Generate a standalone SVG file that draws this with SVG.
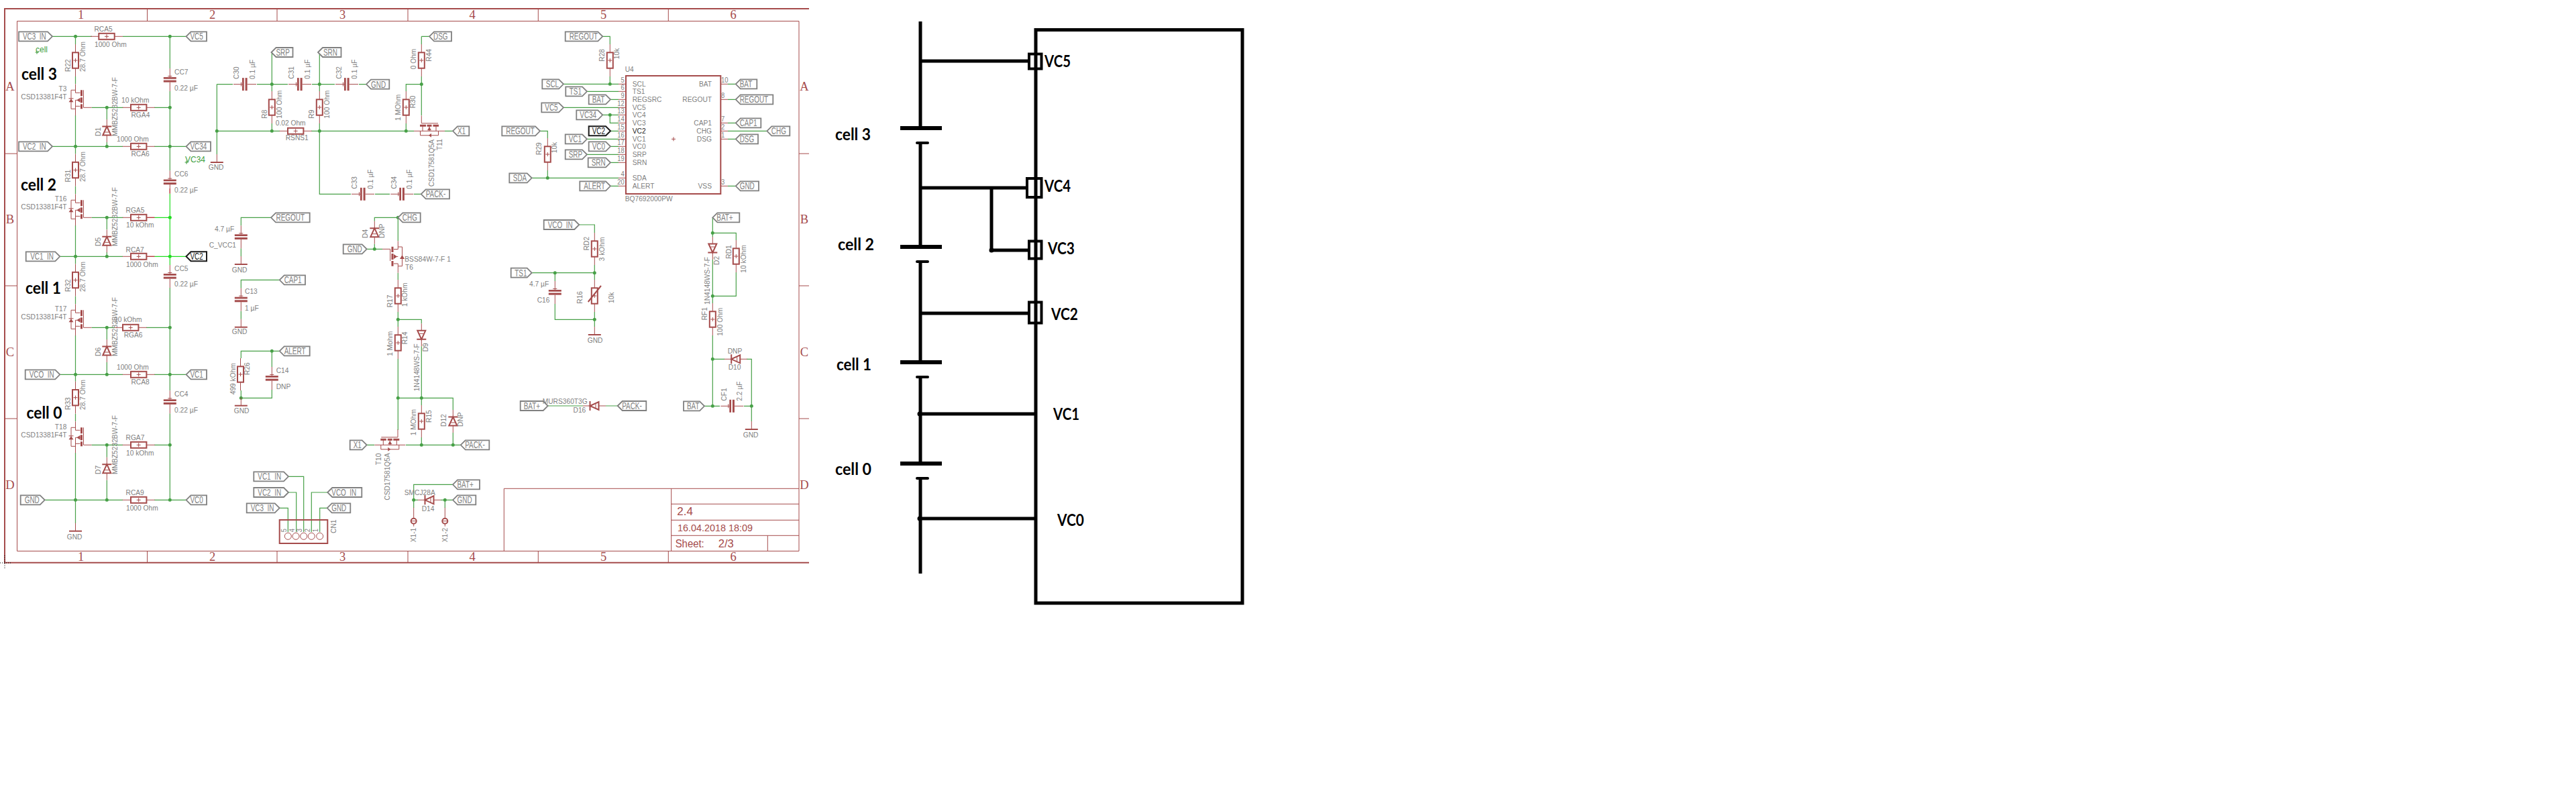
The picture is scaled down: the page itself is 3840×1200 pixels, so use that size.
<svg xmlns="http://www.w3.org/2000/svg" width="3840" height="1200" viewBox="0 0 3840 1200">
<style>
text{font-family:"Liberation Sans",Arial,sans-serif;fill:#7f7f7f}
.t,.l,.pn{transform-box:fill-box;transform-origin:0 50%}
.t{font-size:11.5px;transform:scaleX(.89)}
.l{font-size:14px;transform:scaleX(.71)}
.pn{font-size:10.5px;transform:scaleX(.9)}
.e{transform-origin:100% 50%}
.g{fill:#3d9e3d;font-size:12px}
.m{font-family:"Liberation Serif",serif;fill:#a54b4b;font-size:18.5px;text-anchor:middle}
.tb{fill:#a54b4b}
.b,.r{font-family:Lato,"Liberation Sans",sans-serif;font-weight:700;fill:#000;font-size:24px}
.w{fill:none;stroke:#47a047;stroke-width:1.2}
.wb{fill:none;stroke:#22dd22;stroke-width:1.2}
.red{fill:none;stroke:#e01515;stroke-width:1.2}
.d{fill:#47a047}
.db{fill:#22dd22}
.p{fill:none;stroke:#a54b4b;stroke-width:1}
.f{fill:#fff;stroke:#a54b4b;stroke-width:2}
.n{fill:none;stroke:#a54b4b;stroke-width:2}
.k{fill:none;stroke:#a54b4b;stroke-width:3}
.s{fill:#a54b4b}
.lb{fill:#fff;stroke:#808080;stroke-width:1.8}
.lk{fill:#fff;stroke:#1a1a1a;stroke-width:2}
.x{fill:none;stroke:#000;stroke-width:5}
.y{fill:none;stroke:#000;stroke-width:4}
</style>
<defs>
<g id="res"><path class="p" d="M0-24V-12M0 12V24"/><rect class="f" x="-4.5" y="-11.7" width="9" height="23.4"/><path class="p" d="M-3 0H3M0-3V3"/></g>
<g id="cap"><path class="p" d="M0-17V-4M0 3.6V17M-3-5.5H3"/><rect class="s" x="-9.5" y="-4" width="19" height="2.7"/><rect class="s" x="-9.5" y="0.6" width="19" height="3"/></g>
<g id="dio"><path class="p" d="M0-17V-6.5M0 6.5V17"/><path class="n" d="M-7-6.5H7M-6 6.5H6L0-6.5Z"/><path class="p" d="M-3 2H3"/></g>
<g id="gnd"><path class="p" d="M0-12V0"/><path class="n" d="M-9.5 0H9.5"/></g>
<g id="pad"><path class="p" d="M0-20V-4M0 4V8M-4 0H4"/><circle class="n" r="4"/></g>
<g id="nfet"><path class="p" d="M0-35V-22H7M0-11H7M0-11V12M0-2H7M12-26V0H24M0-26H-6.5V2H0"/><path class="k" d="M9-26V-17M9-15V-7M9-5V2"/><path class="s" d="M7-14.5V-7.5L2-11Z"/><path class="s" d="M-10-8H-3L-6.5-13Z"/><path class="p" d="M-10-13.5H-3"/></g>
<g id="hfet"><path class="p" d="M-11.7-23V-11.5H13M-10-8V0M10-8V0M0-8V0M-23 0H23M-13.5 0V6.5H13.5V0"/><path class="k" d="M-14-8H-5M-3.5-8H3.5M5.5-8H14"/><path class="s" d="M-3-1H3L0-6Z"/><path class="s" d="M-1 6.5L3 3.5V9.5Z"/></g>
</defs>
<g id="frame">
<path class="n" d="M1206 13H7V838.7H1206"/>
<path class="p" d="M25.5 31.5H1191V821.5H25.5ZM219.5 13V31.5M413 13V31.5M608 13V31.5M802.3 13V31.5M996.3 13V31.5M219.5 821.5V838.7M413 821.5V838.7M608 821.5V838.7M802.3 821.5V838.7M996.3 821.5V838.7M7 229H25.5M7 426H25.5M7 624H25.5M1191 229H1206M1191 426H1206M1191 624H1206"/>
<path fill="none" stroke="#000" stroke-width="1" stroke-dasharray="1 2" d="M7 828V848M0 839H17"/>
<text class="m" x="120.700" y="28">1</text><text class="m" x="316.700" y="28">2</text><text class="m" x="510.500" y="28">3</text><text class="m" x="704" y="28">4</text><text class="m" x="899.500" y="28">5</text><text class="m" x="1093" y="28">6</text>
<text class="m" x="120.700" y="836">1</text><text class="m" x="316.700" y="836">2</text><text class="m" x="510.500" y="836">3</text><text class="m" x="704" y="836">4</text><text class="m" x="899.500" y="836">5</text><text class="m" x="1093" y="836">6</text>
<text class="m" x="15" y="135">A</text><text class="m" x="15" y="333">B</text><text class="m" x="15" y="531">C</text><text class="m" x="15" y="729">D</text>
<text class="m" x="1199" y="135">A</text><text class="m" x="1199" y="333">B</text><text class="m" x="1199" y="531">C</text><text class="m" x="1199" y="729">D</text>
<path class="p" d="M751.300 821.5V728.300H1191M1000.700 728.300V821.500M1000.700 751.300H1191M1000.700 775.300H1191M1000.700 798.300H1191M1144.300 798.300V821.500"/>
<text class="tb" font-size="17" x="1009.300" y="768.300">2.4</text>
<text class="tb" font-size="15" x="1010" y="792.300" textLength="112" lengthAdjust="spacingAndGlyphs">16.04.2018 18:09</text>
<text class="tb" font-size="17" x="1006.700" y="815.700" textLength="43" lengthAdjust="spacingAndGlyphs">Sheet:</text>
<text class="tb" font-size="17" x="1070.700" y="815.700" textLength="23" lengthAdjust="spacingAndGlyphs">2/3</text>
</g>
<g id="connectors">
<path class="w" d="M78 54.3H137M183 54.3H277.5M112.5 54.3V66M112.5 114V125M112.5 172V229.5M112.5 277.5V289.3M112.5 336V393.5M112.5 441.5V453.3M112.5 500V568.7M112.5 616.7V628.3M112.5 675V780M253.3 54.3V102M253.3 136V254.5M253.3 429V582.3M253.3 616.3V745.3M136.5 160.3H183.5M230 160.3H253.3M136.5 324.3H183.5M136.5 488.3H171M218 488.3H253.3M136.5 663.3H183M230 663.3H253.3M78 218.3H183M230 218.3H277.5M89.3 382.3H183M89.3 558.3H183M230 558.3H277.5M66.7 745.3H183M230 745.3H277.5M159.3 160.3V178M159.3 212V218.3M159.3 324.3V342M159.3 376V382.3M159.3 488.3V506M159.3 540V558.3M159.3 663.3V681.7M159.3 715.7V745.3"/>
<path class="w" d="M323.3 125.6H347M323.3 125.6V230M383 125.6H429M465 125.6H499M535 125.6H546M405.3 78V136M405.3 184V195.3M476.3 78V136M476.3 184V289.3H523M559 289.3H581M617 289.3H627.7M323.3 195.3H417M464 195.3H617M605.3 195.3V184M605.3 136V125.6H628.3M628.3 54.3H640M628.3 54.3V66M628.3 114V172M663 195.3H675"/>
<path class="w" d="M404 324.3H359.3V336.3M359.3 370.3V382M416.7 417.3H359.3V429.7M359.3 463.7V475.7M416.7 523.3H359.3V534M405.3 523.3V547M405.3 581V593.3H359.3M359.3 582V592.7"/>
<path class="w" d="M593.3 324.3H558.3V329.7M558.3 363.7V371.3M546.7 371.3H570M593.3 324.3V359.3M593.3 406.7V417M593.3 465V487M593.3 476.3H628.3V482.3M628.3 516.3V604M593.3 535V641M593.3 593.3H675.3V611M675.3 645V663.3M628.3 652V663.3M605 663.3H686.7M546.7 663.3H558"/>
<path class="w" d="M616.7 745.3V722.3H675M616.7 745.3H623M657 745.3H675M616.7 745.3V757M663.3 745.3V757M430 710.3H452.7V793M430 734H441.7V793M416.7 757.3H429.3V793M488.3 734H464.3V793M487.7 757.3H476.7V793"/>
<path class="w" d="M840 125.3H922M875 136.3H922M910 148.3H922M840 160.3H922M898.3 171.3H922M909.3 171.3V183.3H922M910 195.3H922M875 207.3H922M910 218.3H922M875 230.3H922M910 242.3H922M805 195.3H816.3V206M816.3 254V265.3M792.7 265.3H922M910 277.3H922M898.3 54.3H909.3V66M909.3 114V125.3M1085 125.3H1096.7M1085 148.3H1096.7M1085 183.3H1096.7M1085 195.3H1143.3M1085 207.3H1096.7M1085 277.3H1096.7"/>
<path class="w" d="M863.3 335H886.3V347M886.3 395V417M792.7 406.7H886.3M827.3 406.7V419M827.3 453V476.3H886.3M886.3 465V487M1062.3 324.3V353M1062.3 347.3H1097.3V358M1097.3 406V441.3H1062.3M1062.3 387V452M1062.3 500V605.3H1050M1062.3 605.3H1073M1062.3 535.3H1080M1113 535.3H1120.3V628M1109 605.3H1120.3M816.7 605H869M903 605H920.7"/>
<path class="wb" d="M253.3 288.5V395M230 324.3H253.3M230 382.3H277.5"/>
<path class="red" d="M219 324.3H230M219 382.3H230M253.3 281V288.5"/>
<g class="d"><circle cx="112.500" cy="54.300" r="2.500"/><circle cx="253.300" cy="54.300" r="2.500"/><circle cx="159.300" cy="160.300" r="2.500"/><circle cx="253.300" cy="160.300" r="2.500"/><circle cx="112.500" cy="218.300" r="2.500"/><circle cx="159.300" cy="218.300" r="2.500"/><circle cx="253.300" cy="218.300" r="2.500"/><circle cx="159.300" cy="324.300" r="2.500"/><circle cx="112.500" cy="382.300" r="2.500"/><circle cx="159.300" cy="382.300" r="2.500"/><circle cx="159.300" cy="488.300" r="2.500"/><circle cx="253.300" cy="488.300" r="2.500"/><circle cx="112.500" cy="558.300" r="2.500"/><circle cx="159.300" cy="558.300" r="2.500"/><circle cx="253.300" cy="558.300" r="2.500"/><circle cx="159.300" cy="663.300" r="2.500"/><circle cx="253.300" cy="663.300" r="2.500"/><circle cx="112.500" cy="745.300" r="2.500"/><circle cx="159.300" cy="745.300" r="2.500"/><circle cx="253.300" cy="745.300" r="2.500"/><circle cx="405.300" cy="125.600" r="2.500"/><circle cx="405.300" cy="195.300" r="2.500"/><circle cx="323.300" cy="195.300" r="2.500"/><circle cx="476.300" cy="125.600" r="2.500"/><circle cx="476.300" cy="195.300" r="2.500"/><circle cx="605.300" cy="195.300" r="2.500"/><circle cx="628.300" cy="125.600" r="2.500"/><circle cx="405.300" cy="523.300" r="2.500"/><circle cx="359.300" cy="593.300" r="2.500"/><circle cx="593.300" cy="324.300" r="2.500"/><circle cx="558.300" cy="371.300" r="2.500"/><circle cx="593.300" cy="476.300" r="2.500"/><circle cx="593.300" cy="593.300" r="2.500"/><circle cx="628.300" cy="593.300" r="2.500"/><circle cx="628.300" cy="663.300" r="2.500"/><circle cx="675.300" cy="663.300" r="2.500"/><circle cx="616.700" cy="745.300" r="2.500"/><circle cx="663.300" cy="745.300" r="2.500"/><circle cx="909.300" cy="125.300" r="2.500"/><circle cx="909.300" cy="171.300" r="2.500"/><circle cx="816.300" cy="265.300" r="2.500"/><circle cx="827.300" cy="406.700" r="2.500"/><circle cx="886.300" cy="406.700" r="2.500"/><circle cx="886.300" cy="476.300" r="2.500"/><circle cx="1062.300" cy="347.300" r="2.500"/><circle cx="1062.300" cy="441.300" r="2.500"/><circle cx="1062.300" cy="535.300" r="2.500"/><circle cx="1062.300" cy="605.300" r="2.500"/><circle cx="1120.300" cy="605.300" r="2.500"/></g>
<g class="db"><circle cx="253.300" cy="324.300" r="2.500"/><circle cx="253.300" cy="382.300" r="2.500"/></g>
<path class="x" d="M1372 32V190M1372 213V368M1372 390V540M1372 562V691M1372 713V855M1372 91H1535M1372 280H1532M1478 280V373H1535M1372 467H1535M1372 617H1544M1372 773H1544"/>
<circle cx="1478" cy="373" r="3.500"/><circle cx="1371" cy="617" r="3.500"/><circle cx="1371" cy="773" r="3.500"/>
</g>
<g id="nets">
<text class="g" x="53" y="78">cell</text><path class="w" d="M52.500 78H57.500M55 75.500V80.500"/>
<text class="g" x="276" y="242">VC34</text><path class="w" d="M275.500 242H280.500M278 239.500V244.500"/>
</g>
<g id="hv-labels">
<g id="lb1" transform="translate(28 54.3)"><path class="lb" d="M0-7H43L50 0 43 7H0Z"/><text class="l" x="6" y="5">VC3_IN</text></g>
<g id="lb2" transform="translate(28 218.3)"><path class="lb" d="M0-7H43L50 0 43 7H0Z"/><text class="l" x="6" y="5">VC2_IN</text></g>
<g id="lb3" transform="translate(38.7 382.3)"><path class="lb" d="M0-7H43.600L50.600 0 43.600 7H0Z"/><text class="l" x="6.500" y="5">VC1_IN</text></g>
<g id="lb4" transform="translate(37.7 558.3)"><path class="lb" d="M0-7H44.600L51.600 0 44.600 7H0Z"/><text class="l" x="6" y="5">VCO_IN</text></g>
<g id="lb5" transform="translate(30.7 745.3)"><path class="lb" d="M0-7H29L36 0 29 7H0Z"/><text class="l" x="6" y="5">GND</text></g>
<g id="lb6" transform="translate(378.3 710.3)"><path class="lb" d="M0-7H44.700L51.700 0 44.700 7H0Z"/><text class="l" x="6" y="5">VC1_IN</text></g>
<g id="lb7" transform="translate(378.3 734)"><path class="lb" d="M0-7H44.700L51.700 0 44.700 7H0Z"/><text class="l" x="6" y="5">VC2_IN</text></g>
<g id="lb8" transform="translate(367.7 757.3)"><path class="lb" d="M0-7H42L49 0 42 7H0Z"/><text class="l" x="6" y="5">VC3_IN</text></g>
<g id="lb9" transform="translate(511.7 371.3)"><path class="lb" d="M0-7H28L35 0 28 7H0Z"/><text class="l" x="6" y="5">GND</text></g>
<g id="lb10" transform="translate(521.7 663.3)"><path class="lb" d="M0-7H18L25 0 18 7H0Z"/><text class="l" x="5" y="5">X1</text></g>
<g id="lb11" transform="translate(748.3 195.3)"><path class="lb" d="M0-7H49.700L56.700 0 49.700 7H0Z"/><text class="l" x="6" y="5">REGOUT</text></g>
<g id="lb12" transform="translate(759.3 265.3)"><path class="lb" d="M0-7H26.400L33.400 0 26.400 7H0Z"/><text class="l" x="5.500" y="5">SDA</text></g>
<g id="lb13" transform="translate(761.7 406.7)"><path class="lb" d="M0-7H24L31 0 24 7H0Z"/><text class="l" x="5.500" y="5">TS1</text></g>
<g id="lb14" transform="translate(775.7 605)"><path class="lb" d="M0-7H34L41 0 34 7H0Z"/><text class="l" x="5" y="5">BAT+</text></g>
<g id="lb15" transform="translate(1019 605.3)"><path class="lb" d="M0-7H24L31 0 24 7H0Z"/><text class="l" x="5" y="5">BAT</text></g>
<g id="lb16" transform="translate(842.7 54.3)"><path class="lb" d="M0-7H48.600L55.600 0 48.600 7H0Z"/><text class="l" x="6" y="5">REGOUT</text></g>
<g id="lb17" transform="translate(808.3 125.3)"><path class="lb" d="M0-7H24.700L31.700 0 24.700 7H0Z"/><text class="l" x="5.500" y="5">SCL</text></g>
<g id="lb18" transform="translate(843.3 136.3)"><path class="lb" d="M0-7H24.700L31.700 0 24.700 7H0Z"/><text class="l" x="5.500" y="5">TS1</text></g>
<g id="lb19" transform="translate(877.7 148.3)"><path class="lb" d="M0-7H25.300L32.300 0 25.300 7H0Z"/><text class="l" x="5" y="5">BAT</text></g>
<g id="lb20" transform="translate(807.3 160.3)"><path class="lb" d="M0-7H25.700L32.700 0 25.700 7H0Z"/><text class="l" x="5" y="5">VC5</text></g>
<g id="lb21" transform="translate(859.3 171.3)"><path class="lb" d="M0-7H32L39 0 32 7H0Z"/><text class="l" x="5" y="5">VC34</text></g>
<g id="lb22" transform="translate(877.7 195.3)"><path class="lk" d="M0-7H25.300L32.300 0 25.300 7H0Z"/><text class="l" style="fill:#1a1a1a" x="5" y="5">VC2</text></g>
<g id="lb23" transform="translate(842.7 207.3)"><path class="lb" d="M0-7H25.300L32.300 0 25.300 7H0Z"/><text class="l" x="5" y="5">VC1</text></g>
<g id="lb24" transform="translate(877.7 218.3)"><path class="lb" d="M0-7H25.300L32.300 0 25.300 7H0Z"/><text class="l" x="5" y="5">VC0</text></g>
<g id="lb25" transform="translate(842.7 230.3)"><path class="lb" d="M0-7H25.300L32.300 0 25.300 7H0Z"/><text class="l" x="5" y="5">SRP</text></g>
<g id="lb26" transform="translate(876.7 242.3)"><path class="lb" d="M0-7H26.300L33.300 0 26.300 7H0Z"/><text class="l" x="5" y="5">SRN</text></g>
<g id="lb27" transform="translate(864.3 277.3)"><path class="lb" d="M0-7H38.700L45.700 0 38.700 7H0Z"/><text class="l" x="6" y="5">ALERT</text></g>
<g id="lb28" transform="translate(810.7 335)"><path class="lb" d="M0-7H45.600L52.600 0 45.600 7H0Z"/><text class="l" x="6" y="5">VCO_IN</text></g>
<g id="ll1" transform="translate(277.5 54.3)"><path class="lb" d="M0 0L7-7H30.500V7H7Z"/><text class="l" x="6" y="5">VC5</text></g>
<g id="ll2" transform="translate(277.5 218.3)"><path class="lb" d="M0 0L7-7H36.500V7H7Z"/><text class="l" x="6" y="5">VC34</text></g>
<g id="ll3" transform="translate(277.5 382.3)"><path class="lk" d="M0 0L7-7H30.500V7H7Z"/><text class="l" style="fill:#1a1a1a" x="6" y="5">VC2</text></g>
<g id="ll4" transform="translate(277.5 558.3)"><path class="lb" d="M0 0L7-7H30.500V7H7Z"/><text class="l" x="6" y="5">VC1</text></g>
<g id="ll5" transform="translate(277.5 745.3)"><path class="lb" d="M0 0L7-7H30.500V7H7Z"/><text class="l" x="6" y="5">VC0</text></g>
<g id="ll6" transform="translate(404.5 78)"><path class="lb" d="M0 0L7-7H32V7H7Z"/><text class="l" x="7" y="5">SRP</text></g>
<g id="ll7" transform="translate(474 78)"><path class="lb" d="M0 0L7-7H34.500V7H7Z"/><text class="l" x="8" y="5">SRN</text></g>
<g id="ll8" transform="translate(546 125.6)"><path class="lb" d="M0 0L7-7H34.300V7H7Z"/><text class="l" x="7" y="5">GND</text></g>
<g id="ll9" transform="translate(640 54.3)"><path class="lb" d="M0 0L7-7H33V7H7Z"/><text class="l" x="6" y="5">DSG</text></g>
<g id="ll10" transform="translate(675 195.3)"><path class="lb" d="M0 0L7-7H24.300V7H7Z"/><text class="l" x="7" y="5">X1</text></g>
<g id="ll11" transform="translate(627.7 289.3)"><path class="lb" d="M0 0L7-7H42.300V7H7Z"/><text class="l" x="7" y="5">PACK-</text></g>
<g id="ll12" transform="translate(404 324.3)"><path class="lb" d="M0 0L7-7H57.700V7H7Z"/><text class="l" x="7.500" y="5">REGOUT</text></g>
<g id="ll13" transform="translate(593.3 324.3)"><path class="lb" d="M0 0L7-7H33.400V7H7Z"/><text class="l" x="6.500" y="5">CHG</text></g>
<g id="ll14" transform="translate(416.7 417.3)"><path class="lb" d="M0 0L7-7H38.300V7H7Z"/><text class="l" x="7" y="5">CAP1</text></g>
<g id="ll15" transform="translate(416.7 523.3)"><path class="lb" d="M0 0L7-7H45V7H7Z"/><text class="l" x="7" y="5">ALERT</text></g>
<g id="ll16" transform="translate(488.3 734)"><path class="lb" d="M0 0L7-7H51V7H7Z"/><text class="l" x="6" y="5">VCO_IN</text></g>
<g id="ll17" transform="translate(487.7 757.3)"><path class="lb" d="M0 0L7-7H34.600V7H7Z"/><text class="l" x="6.500" y="5">GND</text></g>
<g id="ll18" transform="translate(686.7 663.3)"><path class="lb" d="M0 0L7-7H42.600V7H7Z"/><text class="l" x="6.500" y="5">PACK-</text></g>
<g id="ll19" transform="translate(675 722.3)"><path class="lb" d="M0 0L7-7H40V7H7Z"/><text class="l" x="6.500" y="5">BAT+</text></g>
<g id="ll20" transform="translate(675 745.3)"><path class="lb" d="M0 0L7-7H34.300V7H7Z"/><text class="l" x="6.500" y="5">GND</text></g>
<g id="ll21" transform="translate(920.7 605)"><path class="lb" d="M0 0L7-7H42.600V7H7Z"/><text class="l" x="6.500" y="5">PACK-</text></g>
<g id="ll22" transform="translate(1096.7 125.3)"><path class="lb" d="M0 0L7-7H31.600V7H7Z"/><text class="l" x="6" y="5">BAT</text></g>
<g id="ll23" transform="translate(1096.7 148.3)"><path class="lb" d="M0 0L7-7H55.600V7H7Z"/><text class="l" x="6" y="5">REGOUT</text></g>
<g id="ll24" transform="translate(1096.7 183.3)"><path class="lb" d="M0 0L7-7H37.600V7H7Z"/><text class="l" x="6" y="5">CAP1</text></g>
<g id="ll25" transform="translate(1143.3 195.3)"><path class="lb" d="M0 0L7-7H34V7H7Z"/><text class="l" x="6.500" y="5">CHG</text></g>
<g id="ll26" transform="translate(1096.7 207.3)"><path class="lb" d="M0 0L7-7H33.300V7H7Z"/><text class="l" x="6" y="5">DSG</text></g>
<g id="ll27" transform="translate(1096.7 277.3)"><path class="lb" d="M0 0L7-7H34.300V7H7Z"/><text class="l" x="6" y="5">GND</text></g>
<g id="ll28" transform="translate(1062.3 324.3)"><path class="lb" d="M0 0L7-7H40V7H7Z"/><text class="l" x="6" y="5">BAT+</text></g>
</g>
<g id="RCA5"><use href="#res" transform="translate(159 54.3) rotate(90)"/><text class="t" x="140.500" y="47">RCA5</text><text class="t" x="141" y="70">1000 Ohm</text></g>
<g id="R22"><use href="#res" transform="translate(112.5 90)"/><g transform="translate(105 107)rotate(-90)"><text class="t">R22</text></g><g transform="translate(127 107)rotate(-90)"><text class="t">28.7 Ohm</text></g></g>
<g id="CC7"><use href="#cap" transform="translate(253.3 119)"/><text class="t" x="260" y="111">CC7</text><text class="t" x="260" y="135">0.22 µF</text></g>
<g id="T3"><use href="#nfet" transform="translate(112.5 160.3)"/><text class="t e" x="99.500" y="136" text-anchor="end">T3</text><text class="t e" x="99.500" y="148" text-anchor="end">CSD13381F4T</text></g>
<g id="D1"><use href="#dio" transform="translate(159.3 195)"/><g transform="translate(150 203)rotate(-90)"><text class="t">D1</text></g><g transform="translate(175 203)rotate(-90)"><text class="t">MMBZ5232BW-7-F</text></g></g>
<g id="RGA4"><use href="#res" transform="translate(206.7 160.3) rotate(90)"/><text class="t" x="181" y="153">10 kOhm</text><text class="t" x="195.500" y="175">RGA4</text></g>
<g id="RCA6"><use href="#res" transform="translate(206.7 218.3) rotate(90)"/><text class="t" x="174" y="211">1000 Ohm</text><text class="t" x="195.500" y="233">RCA6</text></g>
<g id="R31"><use href="#res" transform="translate(112.5 253.5)"/><g transform="translate(105 271.5)rotate(-90)"><text class="t">R31</text></g><g transform="translate(127 271)rotate(-90)"><text class="t">28.7 Ohm</text></g></g>
<g id="CC6"><use href="#cap" transform="translate(253.3 271.5)"/><text class="t" x="260" y="263">CC6</text><text class="t" x="260" y="287">0.22 µF</text></g>
<g id="T16"><use href="#nfet" transform="translate(112.5 324.3)"/><text class="t e" x="99.500" y="300" text-anchor="end">T16</text><text class="t e" x="99.500" y="312" text-anchor="end">CSD13381F4T</text></g>
<g id="D5"><use href="#dio" transform="translate(159.3 359.3)"/><g transform="translate(150 367)rotate(-90)"><text class="t">D5</text></g><g transform="translate(175 367)rotate(-90)"><text class="t">MMBZ5232BW-7-F</text></g></g>
<g id="RGA5"><use href="#res" transform="translate(206.7 324.3) rotate(90)"/><text class="t" x="187.500" y="317">RGA5</text><text class="t" x="188" y="339">10 kOhm</text></g>
<g id="RCA7"><use href="#res" transform="translate(206.7 382.3) rotate(90)"/><text class="t" x="187.500" y="375.700">RCA7</text><text class="t" x="188" y="397.700">1000 Ohm</text></g>
<g id="R32"><use href="#res" transform="translate(112.5 417.5)"/><g transform="translate(105 435)rotate(-90)"><text class="t">R32</text></g><g transform="translate(127 435)rotate(-90)"><text class="t">28.7 Ohm</text></g></g>
<g id="CC5"><use href="#cap" transform="translate(253.3 412)"/><text class="t" x="260" y="404">CC5</text><text class="t" x="260" y="427">0.22 µF</text></g>
<g id="T17"><use href="#nfet" transform="translate(112.5 488.3)"/><text class="t e" x="99.500" y="464" text-anchor="end">T17</text><text class="t e" x="99.500" y="476" text-anchor="end">CSD13381F4T</text></g>
<g id="D6"><use href="#dio" transform="translate(159.3 523)"/><g transform="translate(150 531)rotate(-90)"><text class="t">D6</text></g><g transform="translate(175 531)rotate(-90)"><text class="t">MMBZ5232BW-7-F</text></g></g>
<g id="RGA6"><use href="#res" transform="translate(194.7 488.3) rotate(90)"/><text class="t" x="170" y="480">10 kOhm</text><text class="t" x="184.700" y="502.700">RGA6</text></g>
<g id="RCA8"><use href="#res" transform="translate(206.7 558.3) rotate(90)"/><text class="t" x="174" y="550.700">1000 Ohm</text><text class="t" x="195.500" y="572.700">RCA8</text></g>
<g id="R33"><use href="#res" transform="translate(112.5 592.7)"/><g transform="translate(105 611)rotate(-90)"><text class="t">R33</text></g><g transform="translate(127 611)rotate(-90)"><text class="t">28.7 Ohm</text></g></g>
<g id="CC4"><use href="#cap" transform="translate(253.3 599.3)"/><text class="t" x="260" y="591">CC4</text><text class="t" x="260" y="615">0.22 µF</text></g>
<g id="T18"><use href="#nfet" transform="translate(112.5 663.3)"/><text class="t e" x="99.500" y="640" text-anchor="end">T18</text><text class="t e" x="99.500" y="652" text-anchor="end">CSD13381F4T</text></g>
<g id="D7"><use href="#dio" transform="translate(159.3 698.7)"/><g transform="translate(150 707)rotate(-90)"><text class="t">D7</text></g><g transform="translate(175 707)rotate(-90)"><text class="t">MMBZ5232BW-7-F</text></g></g>
<g id="RGA7"><use href="#res" transform="translate(206.7 663.3) rotate(90)"/><text class="t" x="187.500" y="656">RGA7</text><text class="t" x="188" y="679">10 kOhm</text></g>
<g id="RCA9"><use href="#res" transform="translate(206.7 745.3) rotate(90)"/><text class="t" x="187.500" y="738.300">RCA9</text><text class="t" x="188" y="761">1000 Ohm</text></g>
<g id="GND1"><use href="#gnd" transform="translate(112.5 791.7)"/><text class="t" x="99.700" y="804">GND</text></g>
<g id="cell-labels"><text class="b" x="32" y="119" textLength="53" lengthAdjust="spacingAndGlyphs">cell 3</text><text class="b" x="31" y="284" textLength="53" lengthAdjust="spacingAndGlyphs">cell 2</text><text class="b" x="38" y="438" textLength="53" lengthAdjust="spacingAndGlyphs">cell 1</text><text class="b" x="39.500" y="624" textLength="53" lengthAdjust="spacingAndGlyphs">cell 0</text></g>
<g id="GND2"><use href="#gnd" transform="translate(323.3 242)"/><text class="t" x="310.700" y="252.700">GND</text></g>
<g id="C30"><use href="#cap" transform="translate(365 125.6) rotate(-90)"/><g transform="translate(356 118)rotate(-90)"><text class="t">C30</text></g><g transform="translate(380 118)rotate(-90)"><text class="t">0.1 µF</text></g></g>
<g id="R8"><use href="#res" transform="translate(405.3 160)"/><g transform="translate(397.7 176.7)rotate(-90)"><text class="t">R8</text></g><g transform="translate(420 176.7)rotate(-90)"><text class="t">100 Ohm</text></g></g>
<g id="RSNS1"><use href="#res" transform="translate(440.7 195.3) rotate(90)"/><text class="t" x="410.700" y="187.300">0.02 Ohm</text><text class="t" x="425.700" y="209.300">RSNS1</text></g>
<g id="R9"><use href="#res" transform="translate(476.3 160)"/><g transform="translate(467.7 176.7)rotate(-90)"><text class="t">R9</text></g><g transform="translate(490.7 176.7)rotate(-90)"><text class="t">100 Ohm</text></g></g>
<g id="C31"><use href="#cap" transform="translate(447 125.6) rotate(-90)"/><g transform="translate(437.7 117.7)rotate(-90)"><text class="t">C31</text></g><g transform="translate(462.3 117.7)rotate(-90)"><text class="t">0.1 µF</text></g></g>
<g id="C32"><use href="#cap" transform="translate(517 125.6) rotate(-90)"/><g transform="translate(508.7 117.7)rotate(-90)"><text class="t">C32</text></g><g transform="translate(532.3 117.7)rotate(-90)"><text class="t">0.1 µF</text></g></g>
<g id="C33"><use href="#cap" transform="translate(541 289.3) rotate(-90)"/><g transform="translate(532 281.7)rotate(-90)"><text class="t">C33</text></g><g transform="translate(556 281.7)rotate(-90)"><text class="t">0.1 µF</text></g></g>
<g id="C34"><use href="#cap" transform="translate(599.3 289.3) rotate(-90)"/><g transform="translate(590.7 281.7)rotate(-90)"><text class="t">C34</text></g><g transform="translate(614.3 281.7)rotate(-90)"><text class="t">0.1 µF</text></g></g>
<g id="R30"><use href="#res" transform="translate(605.3 160)"/><g transform="translate(597.3 180)rotate(-90)"><text class="t">1 MOhm</text></g><g transform="translate(619 161.3)rotate(-90)"><text class="t">R30</text></g></g>
<g id="R44"><use href="#res" transform="translate(628.3 90)"/><g transform="translate(620 103.3)rotate(-90)"><text class="t">0 Ohm</text></g><g transform="translate(642.7 91.7)rotate(-90)"><text class="t">R44</text></g></g>
<g id="T11"><use href="#hfet" transform="translate(640 195.3)"/><g transform="translate(647.3 278.3)rotate(-90)"><text class="t">CSD17581Q5A</text></g><g transform="translate(659.3 224)rotate(-90)"><text class="t">T11</text></g></g>
<g id="C_VCC1"><use href="#cap" transform="translate(359.3 353.3)"/><text class="t" x="320" y="345">4.7 µF</text><text class="t" x="311.700" y="369">C_VCC1</text></g>
<g id="GND3"><use href="#gnd" transform="translate(359.3 394)"/><text class="t" x="345.700" y="406">GND</text></g>
<g id="C13"><use href="#cap" transform="translate(359.3 446.7)"/><text class="t" x="365" y="438.300">C13</text><text class="t" x="365" y="463.300">1 µF</text></g>
<g id="GND4"><use href="#gnd" transform="translate(359.3 487.7)"/><text class="t" x="345.700" y="498.300">GND</text></g>
<g id="R26"><use href="#res" transform="translate(358.5 558)"/><g transform="translate(372.3 559)rotate(-90)"><text class="t">R26</text></g><g transform="translate(350.7 588.3)rotate(-90)"><text class="t">499 kOhm</text></g></g>
<g id="C14"><use href="#cap" transform="translate(405.3 564)"/><text class="t" x="411.700" y="556">C14</text><text class="t" x="411.700" y="580">DNP</text></g>
<g id="GND5"><use href="#gnd" transform="translate(359.3 604.7)"/><text class="t" x="348.700" y="616">GND</text></g>
<g id="D4"><use href="#dio" transform="translate(558.3 346.7)"/><g transform="translate(548.3 355)rotate(-90)"><text class="t">D4</text></g><g transform="translate(573.3 355)rotate(-90)"><text class="t">DNP</text></g></g>
<g id="T6"><path class="p" d="M570 371.3H581.700V389M593.300 359.300V371.500H587M587 382.500H593.300M587 393H593.300V406.700M593.300 368H599.500V396.700H593.300"/><path class="k" d="M585 367.700V376M585 378V387M585 389V396.700"/><path class="s" d="M587 379L592 382.500L587 386Z"/><path class="s" d="M596 386H603L599.500 380Z"/><text class="t" x="603.300" y="390">BSS84W-7-F 1</text><text class="t" x="604" y="401.700">T6</text></g>
<g id="R17"><use href="#res" transform="translate(593.3 441)"/><g transform="translate(585.3 458.3)rotate(-90)"><text class="t">R17</text></g><g transform="translate(607.3 457.3)rotate(-90)"><text class="t">1 kOhm</text></g></g>
<g id="D9"><use href="#dio" transform="translate(628.3 499.3) rotate(180)"/><g transform="translate(637.7 524.3)rotate(-90)"><text class="t">D9</text></g><g transform="translate(625 583.3)rotate(-90)"><text class="t">1N4148WS-7-F</text></g></g>
<g id="R14"><use href="#res" transform="translate(593.3 511)"/><g transform="translate(585 530.7)rotate(-90)"><text class="t">1 Mohm</text></g><g transform="translate(606.7 513.3)rotate(-90)"><text class="t">R14</text></g></g>
<g id="R15"><use href="#res" transform="translate(628.3 628)"/><g transform="translate(620 649.3)rotate(-90)"><text class="t">1 MOhm</text></g><g transform="translate(642.7 630)rotate(-90)"><text class="t">R15</text></g></g>
<g id="D12"><use href="#dio" transform="translate(675.3 628)"/><g transform="translate(665.3 636)rotate(-90)"><text class="t">D12</text></g><g transform="translate(690 636)rotate(-90)"><text class="t">DNP</text></g></g>
<g id="T10"><use href="#hfet" transform="translate(581.3 663.3) scale(-1 1)"/><g transform="translate(568.3 693.3)rotate(-90)"><text class="t">T10</text></g><g transform="translate(580.7 745.7)rotate(-90)"><text class="t">CSD17581Q5A</text></g></g>
<g id="D14"><use href="#dio" transform="translate(640 745.3) rotate(-90)"/><text class="t" x="602.700" y="738.300">SMCJ28A</text><text class="t" x="628.700" y="761.700">D14</text></g>
<g id="X1-1"><use href="#pad" transform="translate(616.7 776.7)"/><g transform="translate(620 808.3)rotate(-90)"><text class="t">X1-1</text></g></g>
<g id="X1-2"><use href="#pad" transform="translate(663.3 776.7)"/><g transform="translate(667.3 808.3)rotate(-90)"><text class="t">X1-2</text></g></g>
<g id="CN1"><rect class="n" x="416.700" y="775" width="71.600" height="35"/><g class="p"><circle cx="429.300" cy="799.300" r="5"/><circle cx="441" cy="799.300" r="5"/><circle cx="452.700" cy="799.300" r="5"/><circle cx="464.300" cy="799.300" r="5"/><circle cx="476.700" cy="799.300" r="5"/></g><g transform="translate(426.7 793.3)rotate(-90)"><text class="pn">5</text></g><g transform="translate(438.5 793.3)rotate(-90)"><text class="pn">4</text></g><g transform="translate(450 793.3)rotate(-90)"><text class="pn">3</text></g><g transform="translate(462 793.3)rotate(-90)"><text class="pn">2</text></g><g transform="translate(474 793.3)rotate(-90)"><text class="pn">1</text></g><g transform="translate(500.7 795)rotate(-90)"><text class="t">CN1</text></g></g>
<g id="R28"><use href="#res" transform="translate(909.3 90)"/><g transform="translate(901 91.7)rotate(-90)"><text class="t">R28</text></g><g transform="translate(923.3 88.3)rotate(-90)"><text class="t">10k</text></g></g>
<g id="R29"><use href="#res" transform="translate(816.3 230)"/><g transform="translate(807.3 231)rotate(-90)"><text class="t">R29</text></g><g transform="translate(830 228.3)rotate(-90)"><text class="t">10k</text></g></g>
<g id="U4"><rect class="n" x="933" y="113" width="141.300" height="176"/><path class="p" d="M922 125.300H933M922 136.300H933M922 148.300H933M922 160.300H933M922 171.300H933M922 183.300H933M922 195.300H933M922 207.300H933M922 218.300H933M922 230.300H933M922 242.300H933M922 265.300H933M922 277.300H933M1074 125.300H1085M1074 148.300H1085M1074 183.300H1085M1074 195.300H1085M1074 207.300H1085M1074 277.300H1085M1001 207.300H1007M1004 204.300V210.300"/>
<text class="t" x="931.700" y="106.700">U4</text><text class="t" x="931.700" y="300">BQ7692000PW</text>
<g text-anchor="end"><text class="pn e" x="930.700" y="123.300">5</text><text class="pn e" x="930.700" y="134.300">6</text><text class="pn e" x="930.700" y="146.300">9</text><text class="pn e" x="930.700" y="158.300">12</text><text class="pn e" x="930.700" y="169.300">13</text><text class="pn e" x="930.700" y="181.300">14</text><text class="pn e" x="930.700" y="193.300">15</text><text class="pn e" x="930.700" y="205.300">16</text><text class="pn e" x="930.700" y="216.300">17</text><text class="pn e" x="930.700" y="228.300">18</text><text class="pn e" x="930.700" y="240.300">19</text><text class="pn e" x="930.700" y="263.300">4</text><text class="pn e" x="930.700" y="275.300">20</text></g>
<text class="pn" x="1075" y="123.300">10</text><text class="pn" x="1075" y="146.300">8</text><text class="pn" x="1075" y="181.300">7</text><text class="pn" x="1075" y="193.300">2</text><text class="pn" x="1075" y="205.300">1</text><text class="pn" x="1075" y="275.300">3</text>
<text class="t" x="942.700" y="128.700">SCL</text><text class="t" x="942.700" y="140">TS1</text><text class="t" x="942.700" y="152">REGSRC</text><text class="t" x="942.700" y="164">VC5</text><text class="t" x="942.700" y="175">VC4</text><text class="t" x="942.700" y="187">VC3</text><text class="t" style="fill:#1a1a1a" x="942.700" y="199">VC2</text><text class="t" x="942.700" y="211">VC1</text><text class="t" x="942.700" y="222">VC0</text><text class="t" x="942.700" y="234">SRP</text><text class="t" x="942.700" y="246">SRN</text><text class="t" x="942.700" y="269">SDA</text><text class="t" x="942.700" y="281">ALERT</text>
<g text-anchor="end"><text class="t e" x="1061" y="128.700">BAT</text><text class="t e" x="1061" y="152">REGOUT</text><text class="t e" x="1061" y="187">CAP1</text><text class="t e" x="1061" y="199">CHG</text><text class="t e" x="1061" y="211">DSG</text><text class="t e" x="1061" y="281">VSS</text></g></g>
<g id="RD2"><use href="#res" transform="translate(886.3 371)"/><g transform="translate(878.3 373.3)rotate(-90)"><text class="t">RD2</text></g><g transform="translate(900.7 389.3)rotate(-90)"><text class="t">3 kOhm</text></g></g>
<g id="C16"><use href="#cap" transform="translate(827.3 436)"/><text class="t" x="789" y="426.700">4.7 µF</text><text class="t" x="800.700" y="450.700">C16</text></g>
<g id="R16"><use href="#res" transform="translate(886.3 441)"/><path class="n" d="M876.700 450L896 426"/><g transform="translate(867.7 452.7)rotate(-90)"><text class="t">R16</text></g><g transform="translate(915 452)rotate(-90)"><text class="t">10k</text></g></g>
<g id="GND6"><use href="#gnd" transform="translate(886.3 499)"/><text class="t" x="875.700" y="510.700">GND</text></g>
<g id="RD1"><use href="#res" transform="translate(1097.3 382)"/><g transform="translate(1090 385.7)rotate(-90)"><text class="t">RD1</text></g><g transform="translate(1111.7 406.7)rotate(-90)"><text class="t">10 kOhm</text></g></g>
<g id="D2"><use href="#dio" transform="translate(1062.3 370) rotate(180)"/><g transform="translate(1071.7 395)rotate(-90)"><text class="t">D2</text></g><g transform="translate(1058.3 454)rotate(-90)"><text class="t">1N4148WS-7-F</text></g></g>
<g id="RF1"><use href="#res" transform="translate(1062.3 476)"/><g transform="translate(1054 477.3)rotate(-90)"><text class="t">RF1</text></g><g transform="translate(1076.7 500.7)rotate(-90)"><text class="t">100 Ohm</text></g></g>
<g id="D10"><use href="#dio" transform="translate(1096.7 535.3) rotate(-90)"/><text class="t" x="1084.700" y="526.700">DNP</text><text class="t" x="1085.700" y="550.700">D10</text></g>
<g id="CF1"><use href="#cap" transform="translate(1091.3 605.3) rotate(-90)"/><g transform="translate(1082.7 597.7)rotate(-90)"><text class="t">CF1</text></g><g transform="translate(1106 597.7)rotate(-90)"><text class="t">2.2 µF</text></g></g>
<g id="GND7"><use href="#gnd" transform="translate(1120.3 640)"/><text class="t" x="1107.700" y="651.700">GND</text></g>
<g id="D16"><use href="#dio" transform="translate(886 605) rotate(-90)"/><text class="t" x="808.700" y="601.700">MURS360T3G</text><text class="t e" x="873.300" y="614.700" text-anchor="end">D16</text></g>
<g id="right-diagram">
<g id="ic"><path class="x" d="M1544 44.500H1852V899H1544Z"/></g>
<g id="cell3-bat"><rect x="1342" y="188" width="62" height="6"/><path class="y" stroke-linecap="round" d="M1367 213H1383"/><text class="r" x="1245" y="209" textLength="53" lengthAdjust="spacingAndGlyphs">cell 3</text></g>
<g id="cell2-bat"><rect x="1342" y="365" width="62" height="6"/><path class="y" stroke-linecap="round" d="M1367 390H1383"/><text class="r" x="1249" y="373" textLength="54" lengthAdjust="spacingAndGlyphs">cell 2</text></g>
<g id="cell1-bat"><rect x="1342" y="537" width="62" height="6"/><path class="y" stroke-linecap="round" d="M1367 562H1383"/><text class="r" x="1247" y="552" textLength="52" lengthAdjust="spacingAndGlyphs">cell 1</text></g>
<g id="cell0-bat"><rect x="1342" y="688" width="62" height="6"/><path class="y" stroke-linecap="round" d="M1367 713H1383"/><text class="r" x="1245" y="708" textLength="54" lengthAdjust="spacingAndGlyphs">cell 0</text></g>
<g id="VC5-pin"><rect class="y" x="1534" y="80.500" width="18.500" height="22"/><text class="r" x="1557" y="100" textLength="39" lengthAdjust="spacingAndGlyphs">VC5</text></g>
<g id="VC4-pin"><rect class="y" x="1531" y="266" width="21.500" height="28"/><text class="r" x="1557" y="286" textLength="39" lengthAdjust="spacingAndGlyphs">VC4</text></g>
<g id="VC3-pin"><rect class="y" x="1534" y="359.500" width="18.500" height="26"/><text class="r" x="1562" y="379" textLength="40" lengthAdjust="spacingAndGlyphs">VC3</text></g>
<g id="VC2-pin"><rect class="y" x="1534" y="450.500" width="18.500" height="31"/><text class="r" x="1567" y="477" textLength="40" lengthAdjust="spacingAndGlyphs">VC2</text></g>
<g id="VC1-pin"><text class="r" x="1570" y="626" textLength="39" lengthAdjust="spacingAndGlyphs">VC1</text></g>
<g id="VC0-pin"><text class="r" x="1576" y="784" textLength="40" lengthAdjust="spacingAndGlyphs">VC0</text></g>
</g>
</svg>
